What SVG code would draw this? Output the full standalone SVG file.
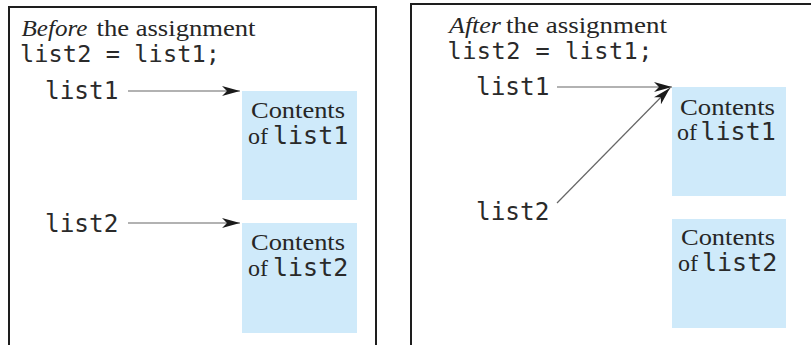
<svg xmlns="http://www.w3.org/2000/svg" width="811" height="345" viewBox="0 0 811 345">
<defs>
<style>
.frame{fill:none;stroke:#1e1e1e;stroke-width:2}
.box{fill:#cfeafa}
.serif{font-family:"Liberation Serif","Times New Roman",serif;font-size:24px;fill:#262626}
.it{font-style:italic}
.mono{font-family:"DejaVu Sans Mono","Liberation Mono",monospace;font-size:23.6px;fill:#2a2a2a}
.lbl{font-size:24.4px}
.inbox{font-size:25px}
.conn{fill:none;stroke:#666;stroke-width:1.2}
</style>
<marker id="arr" viewBox="0 0 18 11" refX="18" refY="5.5" markerWidth="18" markerHeight="11" markerUnits="userSpaceOnUse" orient="auto">
<path d="M0,0.5 L18,5.5 L0,10.5 L5,5.5 z" fill="#1a1a1a"/>
</marker>
</defs>
<rect width="811" height="345" fill="#ffffff"/>

<g id="panel-before">
<path class="frame" d="M9,346 V7 H376 V346"/>
<text class="serif it" x="21.5" y="36" textLength="66" lengthAdjust="spacingAndGlyphs">Before</text>
<text class="serif" x="96.5" y="36" textLength="159" lengthAdjust="spacingAndGlyphs">the assignment</text>
<text class="mono" x="20" y="62" textLength="200" lengthAdjust="spacing">list2 = list1;</text>
</g>

<g id="panel-after">
<path class="frame" d="M411,346 V4 H812"/>
<text class="serif it" x="449" y="33" textLength="52" lengthAdjust="spacingAndGlyphs">After</text>
<text class="serif" x="506" y="33" textLength="161" lengthAdjust="spacingAndGlyphs">the assignment</text>
<text class="mono" x="447.5" y="59" textLength="205" lengthAdjust="spacing">list2 = list1;</text>
</g>

<g id="before-list1">
<text class="mono lbl" x="45" y="99">list1</text>
</g>
<g id="before-list2">
<text class="mono lbl" x="45" y="232">list2</text>
</g>
<g id="before-contents1">
<rect class="box" x="242" y="91" width="115" height="109"/>
<text class="serif" x="251" y="118" textLength="94" lengthAdjust="spacingAndGlyphs">Contents</text>
<text class="serif" x="248" y="144">of</text>
<text class="mono inbox" x="273" y="144">list1</text>
</g>
<g id="before-contents2">
<rect class="box" x="242" y="223" width="115" height="110"/>
<text class="serif" x="251" y="250" textLength="94" lengthAdjust="spacingAndGlyphs">Contents</text>
<text class="serif" x="248" y="276">of</text>
<text class="mono inbox" x="273" y="276">list2</text>
</g>

<g id="after-list1">
<text class="mono lbl" x="476" y="95">list1</text>
</g>
<g id="after-list2">
<text class="mono lbl" x="476" y="220">list2</text>
</g>
<g id="after-contents1">
<rect class="box" x="672" y="87" width="114" height="109"/>
<text class="serif" x="680" y="115" textLength="95" lengthAdjust="spacingAndGlyphs">Contents</text>
<text class="serif" x="677" y="140">of</text>
<text class="mono inbox" x="700.5" y="140">list1</text>
</g>
<g id="after-contents2">
<rect class="box" x="672" y="219" width="114" height="109"/>
<text class="serif" x="681" y="245" textLength="94" lengthAdjust="spacingAndGlyphs">Contents</text>
<text class="serif" x="678" y="271">of</text>
<text class="mono inbox" x="702" y="271">list2</text>
</g>

<g id="connectors">
<path class="conn" d="M128,91 H240" marker-end="url(#arr)"/>
<path class="conn" d="M128,223 H240" marker-end="url(#arr)"/>
<path class="conn" d="M557,87 H672" marker-end="url(#arr)"/>
<path class="conn" d="M557,203 L670,88" marker-end="url(#arr)"/>
</g>
</svg>
